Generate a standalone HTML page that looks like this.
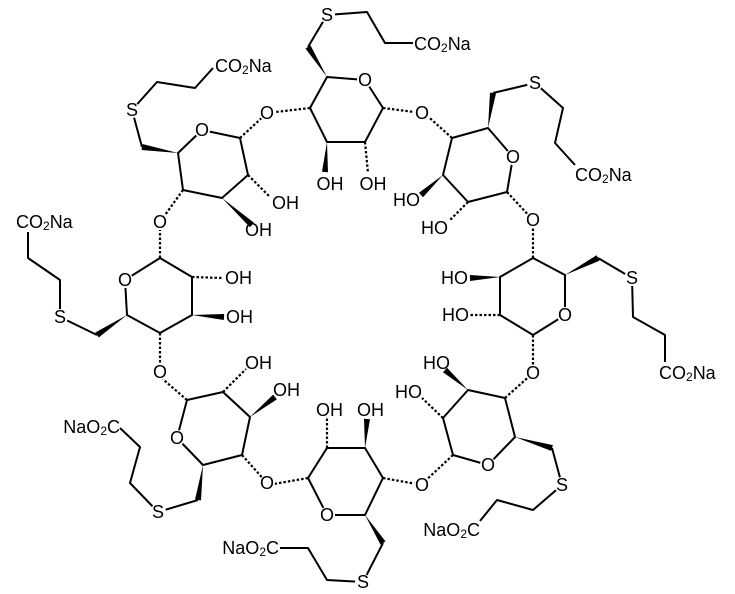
<!DOCTYPE html>
<html><head><meta charset="utf-8"><style>
html,body{margin:0;padding:0;background:#fff;}
svg{display:block;}
text{font-family:"Liberation Sans",sans-serif;font-size:18px;dominant-baseline:central;}
.s{font-size:12px;}
</style></head><body>
<svg width="735" height="594" viewBox="0 0 735 594" xmlns="http://www.w3.org/2000/svg">
<g fill="none" stroke="#000" stroke-width="2" stroke-linejoin="round">
<polygon points="327,77 365,80 383,108 365,142 327,142 310,108"/>
<polyline points="308,47 327,15 367,12 385,43 413,43"/>
<polygon points="178,153 202,130 240,138 248,175 222,198 183,190"/>
<polyline points="142,147 132,110 157,82 195,88 213,68"/>
<polygon points="160,258 192,277 192,315 160,333 127,315 125,280"/>
<polyline points="97,335 60,317 60,280 28,258 28,232"/>
<polygon points="187,400 223,392 250,417 242,455 203,465 177,438"/>
<polyline points="198,500 158,512 130,483 140,447 120,428"/>
<polygon points="308,478 327,448 365,448 383,478 365,515 327,515"/>
<polyline points="383,543 363,582 327,580 308,548 280,548"/>
<polygon points="453,455 443,418 468,390 505,398 515,437 488,465"/>
<polyline points="552,448 562,485 533,510 497,500 480,521"/>
<polygon points="533,335 500,315 500,277 533,258 565,275 565,315"/>
<polyline points="598,258 632,278 633,317 665,335 665,362"/>
<polygon points="507,192 468,202 443,175 452,138 488,128 513,157"/>
<polyline points="493,93 535,83 563,108 555,143 575,165"/>
</g>
<g stroke="#000" stroke-width="2.2" stroke-dasharray="2.5,2">
<line x1="310" y1="108" x2="267" y2="113"/><line x1="383" y1="108" x2="422" y2="113"/><line x1="365" y1="142" x2="368" y2="173"/>
<line x1="240" y1="138" x2="267" y2="113"/><line x1="248" y1="175" x2="270" y2="197"/><line x1="183" y1="190" x2="160" y2="222"/>
<line x1="160" y1="258" x2="160" y2="222"/><line x1="192" y1="277" x2="222" y2="278"/><line x1="160" y1="333" x2="160" y2="372"/>
<line x1="187" y1="400" x2="158" y2="375"/><line x1="223" y1="392" x2="246" y2="369"/><line x1="242" y1="455" x2="267" y2="483"/>
<line x1="308" y1="478" x2="268" y2="485"/><line x1="327" y1="448" x2="327" y2="418"/><line x1="383" y1="478" x2="422" y2="485"/>
<line x1="453" y1="455" x2="423" y2="483"/><line x1="443" y1="418" x2="422" y2="398"/><line x1="505" y1="398" x2="533" y2="373"/>
<line x1="533" y1="335" x2="533" y2="373"/><line x1="500" y1="315" x2="470" y2="315"/><line x1="533" y1="258" x2="533" y2="220"/>
<line x1="507" y1="192" x2="533" y2="220"/><line x1="468" y1="202" x2="449" y2="221"/><line x1="452" y1="138" x2="423" y2="112"/>
</g>
<g fill="#000">
<polygon points="327,77 310.5,45.4 305.5,48.6"/>
<polygon points="327,142 322,171.8 328,172.2"/>
<polygon points="178,153 142.5,144 141.5,150"/>
<polygon points="222,198 250,227.25 254,222.75"/>
<polygon points="127,315 95.3,332.5 98.7,337.5"/>
<polygon points="192,315 223.8,320 224.2,314"/>
<polygon points="203,465 195,499.6 201,500.4"/>
<polygon points="250,417 276.85,399.36 273.15,394.64"/>
<polygon points="365,515 380.5,544.6 385.5,541.4"/>
<polygon points="365,448 370,419.2 364,418.8"/>
<polygon points="515,437 551.15,450.9 552.85,445.1"/>
<polygon points="468,390 447,367.75 443,372.25"/>
<polygon points="565,275 599.4,260.7 596.6,255.3"/>
<polygon points="500,277 469.9,275 470.1,281"/>
<polygon points="488,128 496,93.4 490,92.6"/>
<polygon points="443,175 419,192.75 423,197.25"/>
</g>
<g fill="#fff">
<circle cx="327" cy="15" r="8"/><circle cx="365" cy="80" r="8"/><circle cx="267" cy="113" r="8"/><circle cx="422" cy="113" r="8"/>
<circle cx="202" cy="130" r="8"/><circle cx="132" cy="110" r="8"/><circle cx="160" cy="222" r="8"/>
<circle cx="125" cy="280" r="8"/><circle cx="60" cy="317" r="8"/><circle cx="160" cy="372" r="8"/>
<circle cx="177" cy="438" r="8"/><circle cx="158" cy="512" r="8"/><circle cx="267" cy="483" r="8"/>
<circle cx="327" cy="515" r="8"/><circle cx="363" cy="582" r="8"/><circle cx="422" cy="485" r="8"/>
<circle cx="488" cy="465" r="8"/><circle cx="562" cy="485" r="8"/><circle cx="533" cy="373" r="8"/>
<circle cx="565" cy="315" r="8"/><circle cx="632" cy="278" r="8"/><circle cx="533" cy="220" r="8"/>
<circle cx="513" cy="157" r="8"/><circle cx="535" cy="83" r="8"/>
</g>
<g fill="#000">
<g text-anchor="middle">
<text x="327" y="15">S</text><text x="365" y="80">O</text><text x="267" y="113">O</text><text x="422" y="113">O</text>
<text x="202" y="130">O</text><text x="132" y="110">S</text><text x="160" y="222">O</text>
<text x="125" y="280">O</text><text x="60" y="317">S</text><text x="160" y="372">O</text>
<text x="177" y="438">O</text><text x="158" y="512">S</text><text x="267" y="483">O</text>
<text x="327" y="515">O</text><text x="363" y="582">S</text><text x="422" y="485">O</text>
<text x="488" y="465">O</text><text x="562" y="485">S</text><text x="533" y="373">O</text>
<text x="565" y="315">O</text><text x="632" y="278">S</text><text x="533" y="220">O</text>
<text x="513" y="157">O</text><text x="535" y="83">S</text>
<text x="330" y="184">OH</text><text x="373" y="184">OH</text>
</g>
<g text-anchor="start">
<text x="414" y="44">CO<tspan class="s" dy="4">2</tspan><tspan dy="-4">Na</tspan></text>
<text x="215" y="66">CO<tspan class="s" dy="4">2</tspan><tspan dy="-4">Na</tspan></text>
<text x="272" y="203">OH</text><text x="245" y="230">OH</text>
<text x="16" y="222">CO<tspan class="s" dy="4">2</tspan><tspan dy="-4">Na</tspan></text>
<text x="225" y="278">OH</text><text x="226" y="317">OH</text>
<text x="245" y="363">OH</text><text x="273" y="390">OH</text>
<text x="316" y="410">OH</text><text x="357" y="410">OH</text>
<text x="659" y="373">CO<tspan class="s" dy="4">2</tspan><tspan dy="-4">Na</tspan></text>
<text x="575" y="175">CO<tspan class="s" dy="4">2</tspan><tspan dy="-4">Na</tspan></text>
</g>
<g text-anchor="end">
<text x="120" y="427">NaO<tspan class="s" dy="4">2</tspan><tspan dy="-4">C</tspan></text>
<text x="279" y="548">NaO<tspan class="s" dy="4">2</tspan><tspan dy="-4">C</tspan></text>
<text x="480" y="530">NaO<tspan class="s" dy="4">2</tspan><tspan dy="-4">C</tspan></text>
<text x="450" y="363">HO</text><text x="422" y="392">HO</text>
<text x="468" y="278">HO</text><text x="469" y="315">HO</text>
<text x="420" y="200">HO</text><text x="448" y="228">HO</text>
</g>
</g>
</svg>
</body></html>
